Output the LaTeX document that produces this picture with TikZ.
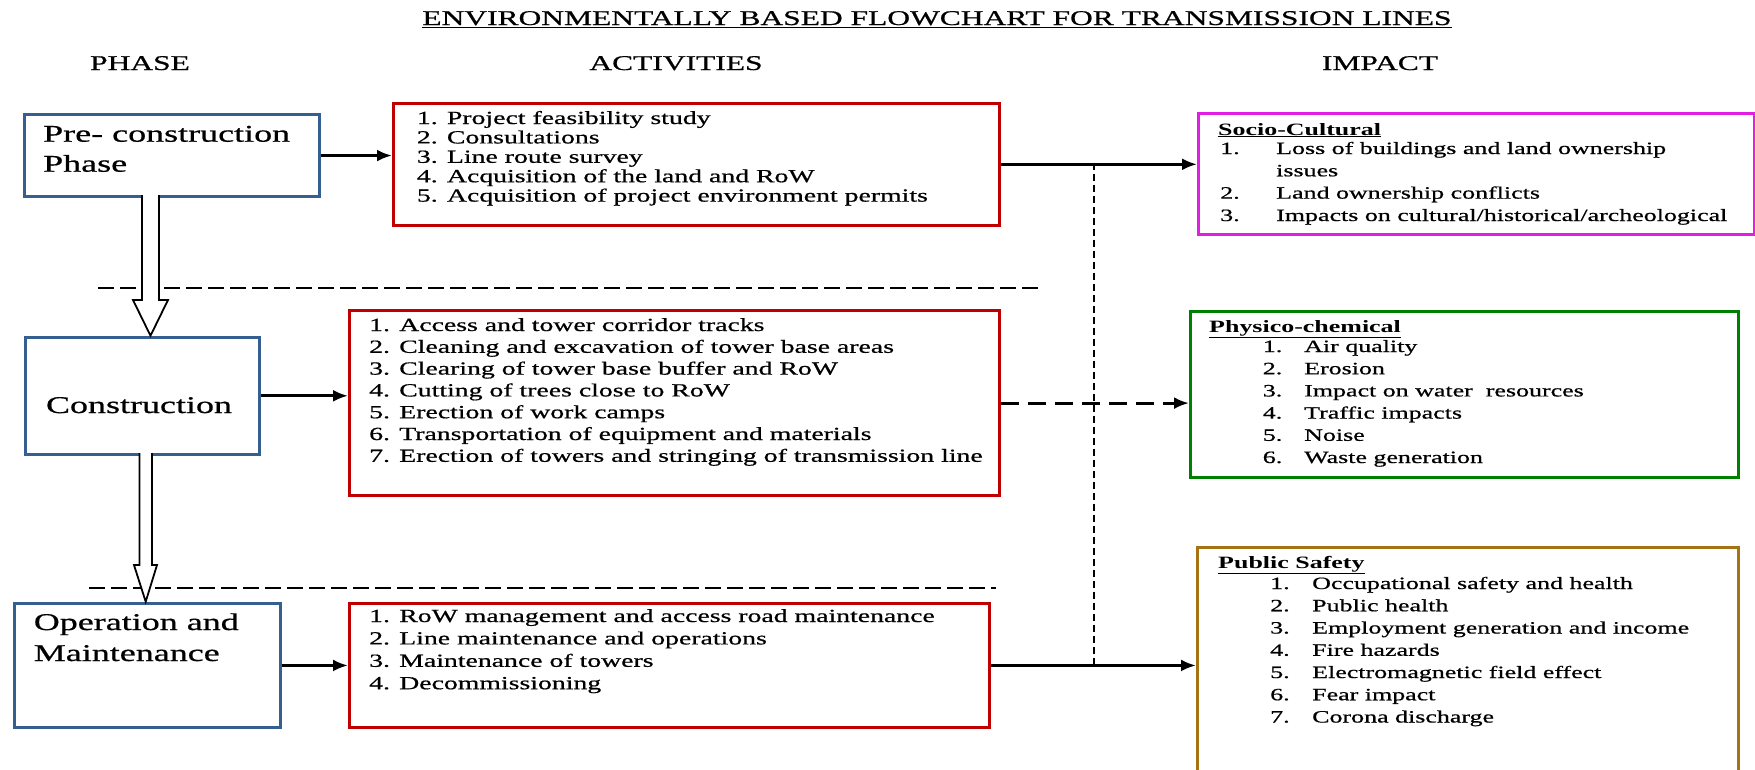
\documentclass[tikz,border=0pt]{standalone}
\usepackage{fontspec}
\setmainfont[FakeStretch=1.5, UprightFeatures={FakeBold=0.7}]{Liberation Serif}
\usetikzlibrary{arrows.meta,calc}
\definecolor{phaseblue}{RGB}{54,95,145}
\definecolor{actred}{RGB}{192,0,0}
\definecolor{socmag}{RGB}{225,30,225}
\definecolor{phygreen}{RGB}{0,128,0}
\definecolor{pubbrown}{RGB}{165,115,20}
\tikzset{
  box/.style={draw, line width=3.2pt, anchor=north west, inner sep=0pt, fill=white},
  phasebox/.style={box, draw=phaseblue},
  actbox/.style={box, draw=actred},
  conn/.style={line width=2.8pt, -{Latex[length=15pt,width=12pt]}},
  dconn/.style={conn, dash pattern=on 18pt off 9pt},
  sep/.style={line width=1.8pt, dash pattern=on 16pt off 6pt},
  vline/.style={line width=1.6pt, dash pattern=on 7pt off 4pt},
  hollow/.style={draw=black, fill=white, line width=1.8pt, line join=miter},
  hdr/.style={font=\fontsize{21}{24}\selectfont, inner sep=0pt, anchor=base},
  acttxt/.style={anchor=base west, inner sep=0pt, font=\fontsize{18.5}{20}\selectfont},
  imptxt/.style={anchor=base west, inner sep=0pt, font=\fontsize{17.3}{22.2}\selectfont},
  imphead/.style={anchor=base west, inner sep=0pt, font=\fontsize{17.3}{22.2}\selectfont\bfseries},
  phtxt/.style={anchor=base west, inner sep=0pt, font=\fontsize{24}{30}\selectfont},
}
\begin{document}
\begin{tikzpicture}[x=1pt,y=-1pt]
\useasboundingbox (0,0) rectangle (1755,769);
% title and headers
\node[hdr] (title) at (937,25) {\underline{ENVIRONMENTALLY BASED FLOWCHART FOR TRANSMISSION LINES}};
\node[hdr] (hphase) at (140,70) {PHASE};
\node[hdr] (hact) at (676,70) {ACTIVITIES};
\node[hdr] (himp) at (1380,70) {IMPACT};
% separators
\coordinate (d1a) at (98,287.7);
\coordinate (d1b) at (1041,287.7);
\coordinate (d2a) at (89,587.7);
\coordinate (d2b) at (996,587.7);
\draw[sep] (d1a) -- (d1b);
\draw[sep] (d2a) -- (d2b);
% boxes
\node[phasebox, minimum width=294.5pt, minimum height=82.5pt] (pre) at (23,112.7) {};
\node[phasebox, minimum width=234pt, minimum height=117pt] (cons) at (24,335.7) {};
\node[phasebox, minimum width=266pt, minimum height=124.3pt] (om) at (12.8,601.7) {};
\node[actbox, minimum width=606pt, minimum height=122pt] (act1) at (392,101.7) {};
\node[actbox, minimum width=650pt, minimum height=185pt] (act2) at (348,309) {};
\node[actbox, minimum width=639.6pt, minimum height=124.3pt] (act3) at (348,601.7) {};
\node[box, draw=socmag, minimum width=556pt, minimum height=121.5pt] (socio) at (1197,111.7) {};
\node[box, draw=phygreen, minimum width=548pt, minimum height=166pt] (phys) at (1189,310) {};
\node[box, draw=pubbrown, minimum width=541pt, minimum height=240pt] (pub) at (1196,546) {};
% hollow arrows (shapes between the phase boxes)
\coordinate (h1a) at (142,195);
\coordinate (h1tip) at (150.5,335.7);
\draw[hollow] (h1a) -- (142,300) -- (133,300) -- (h1tip) -- (168,300) -- (159,300) -- (159,195);
\coordinate (h2a) at (139.5,453);
\coordinate (h2tip) at (145.7,601.7);
\draw[hollow] (h2a) -- (139.5,565) -- (134,565) -- (h2tip) -- (157,565) -- (152,565) -- (152,453);
% phase texts
\node[phtxt] (tpre1) at (43,141.7) {Pre- construction};
\node[phtxt] (tpre2) at (43,171.7) {Phase};
\node[anchor=base, inner sep=0pt, font=\fontsize{24}{30}\selectfont] (tcons) at (139,413) {Construction};
\node[phtxt] (tom1) at (33.6,630) {Operation and};
\node[phtxt] (tom2) at (33.6,661) {Maintenance};
% activities
\foreach \t [count=\i from 0] in {1. Project feasibility study,2. Consultations,3. Line route survey,4. Acquisition of the land and RoW,5. Acquisition of project environment permits}
  \node[acttxt] (ta1-\i) at (416.7,124+19.4*\i) {\t};
\foreach \t [count=\i from 0] in {1. Access and tower corridor tracks,2. Cleaning and excavation of tower base areas,3. Clearing of tower base buffer and RoW,4. Cutting of trees close to RoW,5. Erection of work camps,6. Transportation of equipment and materials,7. Erection of towers and stringing of transmission line}
  \node[acttxt] (ta2-\i) at (369,331+21.8*\i) {\t};
\foreach \t [count=\i from 0] in {1. RoW management and access road maintenance,2. Line maintenance and operations,3. Maintenance of towers,4. Decommissioning}
  \node[acttxt] (ta3-\i) at (369,622+22.4*\i) {\t};
% socio-cultural
\node[imphead] (hs) at (1218,135) {\underline{Socio-Cultural}};
\node[imptxt] (s1n) at (1220,154) {1.};
\node[imptxt] (s1) at (1276,154) {Loss of buildings and land ownership};
\node[imptxt] (s1b) at (1276,176.3) {issues};
\node[imptxt] (s2n) at (1220,198.6) {2.};
\node[imptxt] (s2) at (1276,198.6) {Land ownership conflicts};
\node[imptxt] (s3n) at (1220,221) {3.};
\node[imptxt] (s3) at (1276,221) {Impacts on cultural/historical/archeological};
% physico-chemical
\node[imphead] (hp) at (1209,332) {\underline{Physico-chemical}};
\foreach \n/\t [count=\i from 0] in {1/Air quality,2/Erosion,3/Impact on water\ \ resources,4/Traffic impacts,5/Noise,6/Waste generation}{
  \node[imptxt] (pn\n) at (1262.6,352+22.2*\i) {\n.};
  \node[imptxt] (pt\n) at (1304,352+22.2*\i) {\t};
}
% public safety
\node[imphead] (hq) at (1218,568) {\underline{Public Safety}};
\foreach \n/\t [count=\i from 0] in {1/Occupational safety and health,2/Public health,3/Employment generation and income,4/Fire hazards,5/Electromagnetic field effect,6/Fear impact,7/Corona discharge}{
  \node[imptxt] (qn\n) at (1270,589+22.25*\i) {\n.};
  \node[imptxt] (qt\n) at (1312,589+22.25*\i) {\t};
}
% connectors
\coordinate (vtop) at (1094,162.7);
\coordinate (vbot) at (1094,663.85);
\draw[vline] (vtop) -- (vbot);
\draw[conn] (pre.east) -- (pre.east -| act1.west);
\draw[conn] (cons.east) -- (cons.east -| act2.west);
\draw[conn] (om.east) -- (om.east -| act3.west);
\draw[conn] (act1.east) -- (act1.east -| socio.west);
\draw[dconn] (act2.east) -- (act2.east -| phys.west);
\draw[conn] (act3.east) -- (act3.east -| pub.west);
\end{tikzpicture}
\end{document}
